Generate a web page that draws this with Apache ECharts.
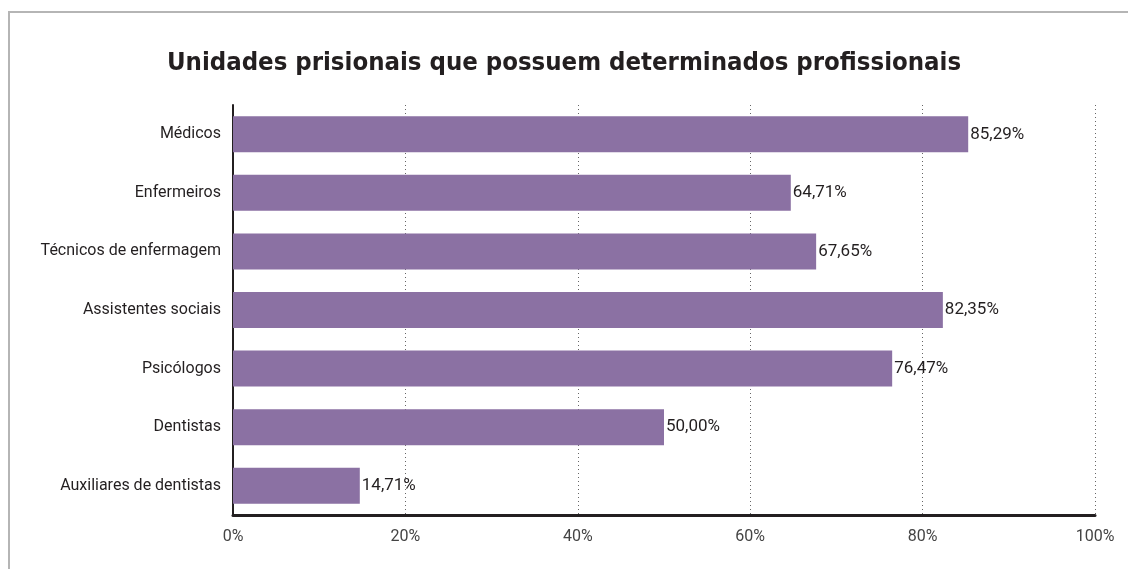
<!DOCTYPE html>
<html>
<head>
<meta charset="utf-8">
<script src="https://cdn.jsdelivr.net/npm/echarts@6/dist/echarts.min.js"></script>
<style>
  html, body { margin: 0; padding: 0; background: #fff; }
  .frame {
    position: absolute; left: 8px; top: 11px; right: 0; bottom: 0;
    border-top: 2px solid #b5b5b5; border-left: 2px solid #b5b5b5;
  }
  #chart { position: absolute; left: 0; top: 0; width: 1128px; height: 569px; }
</style>
</head>
<body>
<div class="frame"></div>
<div id="chart"></div>
<script>
const categories = ['Médicos', 'Enfermeiros', 'Técnicos de enfermagem', 'Assistentes sociais', 'Psicólogos', 'Dentistas', 'Auxiliares de dentistas']
const values = [85.29, 64.71, 67.65, 82.35, 76.47, 50.00, 14.71]
const xTicks = [0, 20, 40, 60, 80, 100]

const chart = echarts.init(document.getElementById('chart'))

chart.setOption({
  animation: false,
  title: {
    text: 'Unidades prisionais que possuem determinados profissionais',
    left: 'center',
    top: 45,
    textStyle: { fontFamily: 'DejaVu Sans Condensed', fontWeight: 'bold', fontSize: 25.5, color: '#231f20' },
  },
  grid: { left: 233, right: 33, top: 105, bottom: 54, containLabel: false },
  xAxis: {
    type: 'value',
    min: xTicks[0],
    max: xTicks[xTicks.length - 1],
    interval: 20,
    axisLine: { show: true, lineStyle: { color: '#231f20', width: 3 } },
    axisTick: { show: false },
    axisLabel: {
      margin: 14,
      fontFamily: 'Roboto',
      fontSize: 16,
      color: '#444',
      formatter: v => v + '%',
    },
    splitLine: { show: true, lineStyle: { type: [1, 3], color: '#666', width: 1 } },
  },
  yAxis: {
    type: 'category',
    data: categories,
    inverse: true,
    axisLine: { show: true, lineStyle: { color: '#231f20', width: 2 } },
    axisTick: { show: false },
    axisLabel: { margin: 12, fontFamily: 'Roboto', fontSize: 16, color: '#231f20' },
  },
  series: [{
    type: 'bar',
    data: values,
    barWidth: 36,
    itemStyle: { color: '#8b71a3' },
    label: {
      show: true,
      position: 'right',
      distance: 2,
      fontFamily: 'Roboto',
      fontSize: 17,
      color: '#231f20',
      formatter: p => p.value.toFixed(2).replace('.', ',') + '%',
    },
  }],
})
</script>
</body>
</html>
